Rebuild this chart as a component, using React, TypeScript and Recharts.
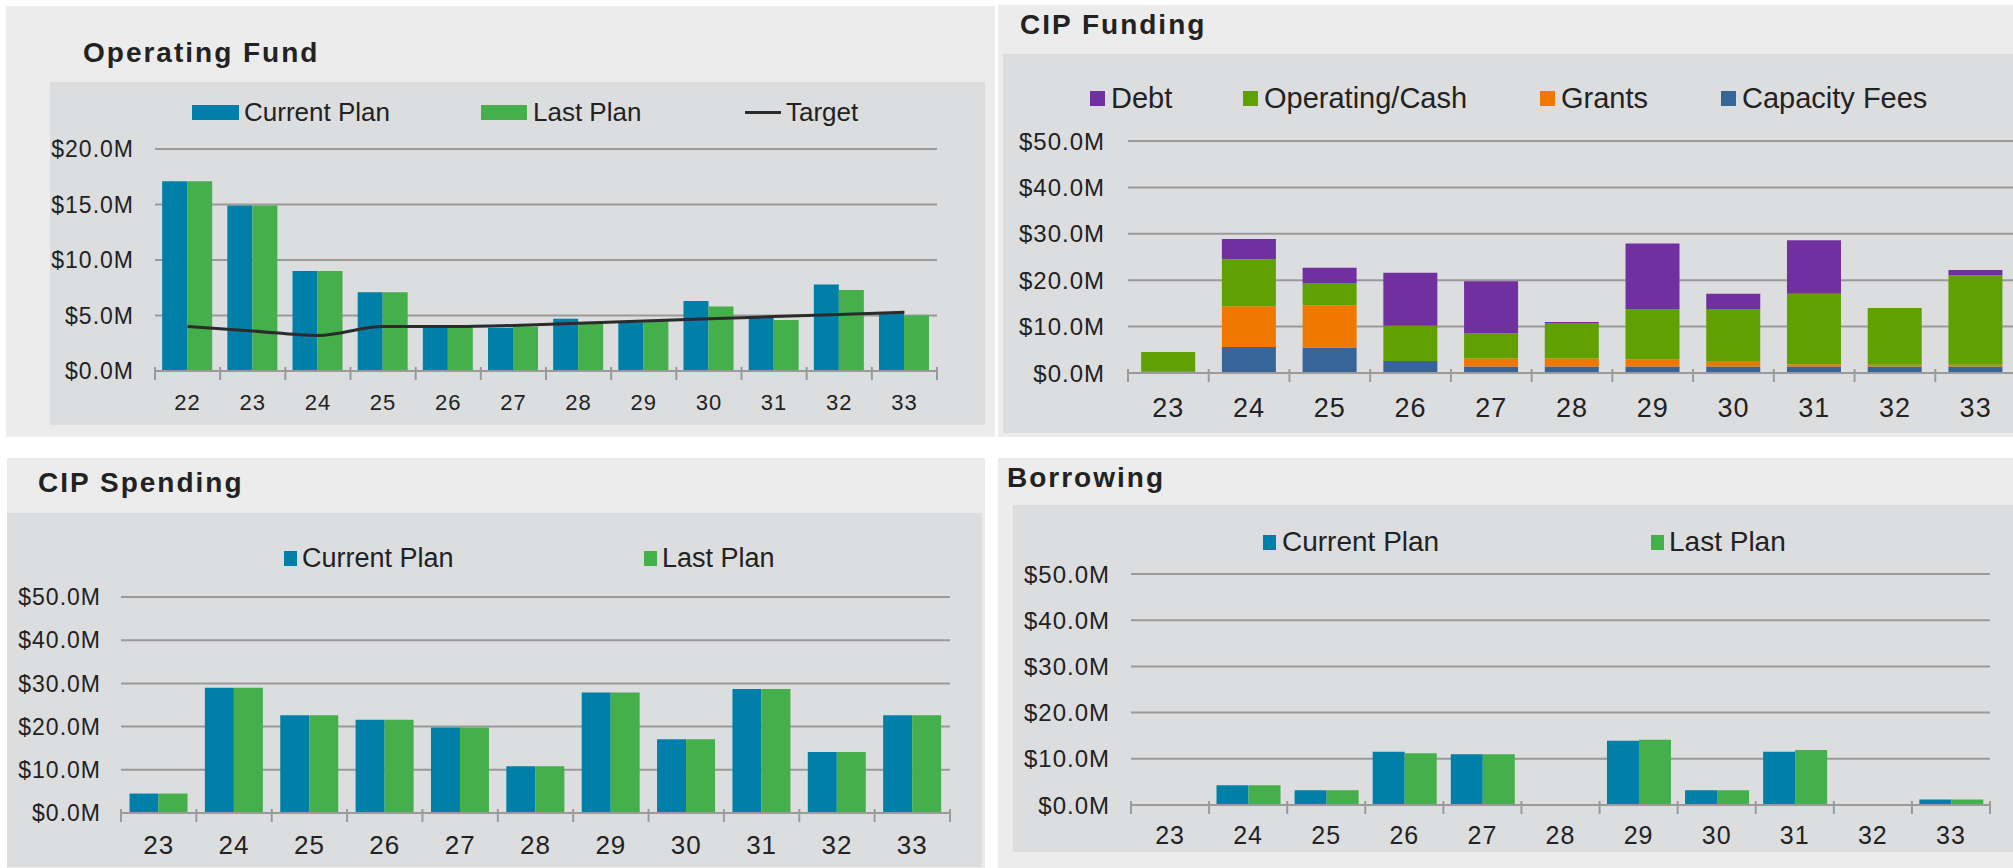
import React from 'react';
import { BarChart, Bar, ComposedChart, Line, XAxis, YAxis, CartesianGrid } from 'recharts';

const FONT = '"Liberation Sans", Arial, Helvetica, sans-serif';
const TEXT = '#222222';
const GRID = '#9a9a9a';
const OUTER_BG = '#ececec';
const INNER_BG = '#dcdddf';

const CURRENT = '#0080a8';
const LAST = '#44af4b';
const TARGET = '#2b2b2b';
const DEBT = '#7030a0';
const OPCASH = '#60a000';
const GRANTS = '#f07800';
const CAPFEES = '#37659a';

// Operating Fund ($M)
const opYears = ['22', '23', '24', '25', '26', '27', '28', '29', '30', '31', '32', '33'];
const opCurrent = [17.1, 14.9, 9.0, 7.1, 4.0, 3.9, 4.7, 4.4, 6.3, 4.8, 7.8, 5.2];
const opLast = [17.1, 14.9, 9.0, 7.1, 4.0, 4.0, 4.4, 4.5, 5.8, 4.6, 7.3, 5.0];
const opTarget = [4.0, 3.6, 3.2, 4.0, 4.0, 4.1, 4.3, 4.5, 4.7, 4.9, 5.1, 5.3];
const opTicks = [0, 5, 10, 15, 20];

// CIP Funding ($M, stacked bottom to top)
const cipYears = ['23', '24', '25', '26', '27', '28', '29', '30', '31', '32', '33'];
const cipCapacityFees = [0.3, 5.6, 5.5, 2.6, 1.4, 1.4, 1.4, 1.4, 1.4, 1.4, 1.4];
const cipGrants = [0, 8.8, 9.1, 0, 1.7, 1.7, 1.5, 1.0, 0.5, 0.4, 0.4];
const cipOperatingCash = [4.2, 10.1, 4.8, 7.6, 5.4, 7.7, 10.9, 11.4, 15.2, 12.2, 19.2];
const cipDebt = [0, 4.4, 3.3, 11.4, 11.3, 0.2, 14.1, 3.3, 11.5, 0, 1.2];
const cipTicks = [0, 10, 20, 30, 40, 50];

// CIP Spending ($M)
const spendCurrent = [4.5, 29.0, 22.6, 21.6, 19.8, 10.8, 27.9, 17.1, 28.7, 14.1, 22.6];
const spendLast = [4.5, 29.0, 22.6, 21.6, 19.8, 10.8, 27.9, 17.1, 28.7, 14.1, 22.6];

// Borrowing ($M)
const borrowCurrent = [0, 4.3, 3.2, 11.5, 11.0, 0, 13.9, 3.2, 11.5, 0, 1.2];
const borrowLast = [0, 4.3, 3.2, 11.2, 11.0, 0, 14.1, 3.2, 11.9, 0, 1.2];

const opData = opYears.map((year, i) => ({ year, current: opCurrent[i], last: opLast[i], target: opTarget[i] }));
const fundingData = cipYears.map((year, i) => ({
  year,
  capacity: cipCapacityFees[i],
  grants: cipGrants[i],
  operating: cipOperatingCash[i],
  debt: cipDebt[i],
}));
const spendData = cipYears.map((year, i) => ({ year, current: spendCurrent[i], last: spendLast[i] }));
const borrowData = cipYears.map((year, i) => ({ year, current: borrowCurrent[i], last: borrowLast[i] }));

const fmtM = (v: number) => `$${v.toFixed(1)}M`;

// x tick: label in the middle of the band, small tick marks at band edges
const CategoryTick = (props: any) => {
  const { x, y, payload, index, count, fontSize, dy } = props;
  const half = payload && payload.offset ? payload.offset : 0;
  return (
    <g>
      <line x1={x - half} x2={x - half} y1={y - 4} y2={y + 9} stroke={GRID} strokeWidth={2} />
      {index === count - 1 && (
        <line x1={x + half} x2={x + half} y1={y - 4} y2={y + 9} stroke={GRID} strokeWidth={2} />
      )}
      <text x={x} y={y + dy} textAnchor="middle" fontSize={fontSize} fill={TEXT} fontFamily={FONT} letterSpacing={1}>
        {payload.value}
      </text>
    </g>
  );
};

const Title = ({ text, left, top }: { text: string; left: number; top: number }) => (
  <div
    style={{
      position: 'absolute',
      left,
      top: top - 18,
      height: 36,
      lineHeight: '36px',
      fontFamily: FONT,
      fontWeight: 700,
      fontSize: 28,
      letterSpacing: 2,
      color: TEXT,
      whiteSpace: 'nowrap',
    }}
  >
    {text}
  </div>
);

type LegendItem = { name: string; color: string; kind: 'bar' | 'line'; swatchX: number; textX: number; swatchW: number };

const LegendRow = ({ items, y, fontSize }: { items: LegendItem[]; y: number; fontSize: number }) => (
  <>
    {items.map((it) => (
      <React.Fragment key={it.name}>
        {it.kind === 'bar' ? (
          <div style={{ position: 'absolute', left: it.swatchX, top: y - 7, width: it.swatchW, height: 15, background: it.color }} />
        ) : (
          <div style={{ position: 'absolute', left: it.swatchX, top: y - 1, width: it.swatchW, height: 3, background: it.color }} />
        )}
        <div
          style={{
            position: 'absolute',
            left: it.textX,
            top: y - 20,
            height: 40,
            lineHeight: '40px',
            fontFamily: FONT,
            fontSize,
            color: TEXT,
            whiteSpace: 'nowrap',
          }}
        >
          {it.name}
        </div>
      </React.Fragment>
    ))}
  </>
);

const Box = ({ left, top, width, height, bg }: { left: number; top: number; width: number; height: number; bg: string }) => (
  <div style={{ position: 'absolute', left, top, width, height, background: bg }} />
);

const yTick = (fontSize: number) => ({ fill: TEXT, fontSize, fontFamily: FONT, letterSpacing: 1 });

const OperatingFund = () => (
  <div style={{ position: 'absolute', left: 50, top: 82 }}>
    <ComposedChart
      width={935}
      height={343}
      data={opData}
      margin={{ top: 67, right: 48, bottom: 0, left: 0 }}
      barCategoryGap="11%"
      barGap={0}
    >
      <CartesianGrid horizontal vertical={false} stroke={GRID} strokeWidth={2} />
      <XAxis
        dataKey="year"
        height={54}
        axisLine={{ stroke: GRID, strokeWidth: 2 }}
        tickLine={false}
        tickSize={0}
        tickMargin={0}
        interval={0}
        tick={(p: any) => <CategoryTick {...p} count={opYears.length} fontSize={22} dy={39} />}
      />
      <YAxis
        width={105}
        domain={[0, 20]}
        ticks={opTicks}
        axisLine={false}
        tickLine={false}
        tickSize={0}
        tickMargin={21}
        tickFormatter={fmtM}
        tick={yTick(23)}
      />
      <Bar dataKey="current" name="Current Plan" fill={CURRENT} isAnimationActive={false} />
      <Bar dataKey="last" name="Last Plan" fill={LAST} isAnimationActive={false} />
      <Line type="monotone" dataKey="target" name="Target" stroke={TARGET} strokeWidth={3} dot={false} isAnimationActive={false} />
    </ComposedChart>
  </div>
);

const CipFunding = () => (
  <div style={{ position: 'absolute', left: 1003, top: 54 }}>
    <BarChart
      width={1013}
      height={379}
      data={fundingData}
      margin={{ top: 87, right: 0, bottom: 0, left: 0 }}
      barCategoryGap="16.3%"
    >
      <CartesianGrid horizontal vertical={false} stroke={GRID} strokeWidth={2} />
      <XAxis
        dataKey="year"
        height={60}
        axisLine={{ stroke: GRID, strokeWidth: 2 }}
        tickLine={false}
        tickSize={0}
        tickMargin={0}
        interval={0}
        tick={(p: any) => <CategoryTick {...p} count={cipYears.length} fontSize={27} dy={44} />}
      />
      <YAxis
        width={125}
        domain={[0, 50]}
        ticks={cipTicks}
        axisLine={false}
        tickLine={false}
        tickSize={0}
        tickMargin={23}
        tickFormatter={fmtM}
        tick={yTick(24)}
      />
      <Bar dataKey="capacity" name="Capacity Fees" stackId="f" fill={CAPFEES} isAnimationActive={false} />
      <Bar dataKey="grants" name="Grants" stackId="f" fill={GRANTS} isAnimationActive={false} />
      <Bar dataKey="operating" name="Operating/Cash" stackId="f" fill={OPCASH} isAnimationActive={false} />
      <Bar dataKey="debt" name="Debt" stackId="f" fill={DEBT} isAnimationActive={false} />
    </BarChart>
  </div>
);

const PlanBars = ({ data, left, top, width, height, margin, gap, axisH, yW, yMargin, xFont, xDy, yFont }: any) => (
  <div style={{ position: 'absolute', left, top }}>
    <BarChart width={width} height={height} data={data} margin={margin} barCategoryGap={gap} barGap={0}>
      <CartesianGrid horizontal vertical={false} stroke={GRID} strokeWidth={2} />
      <XAxis
        dataKey="year"
        height={axisH}
        axisLine={{ stroke: GRID, strokeWidth: 2 }}
        tickLine={false}
        tickSize={0}
        tickMargin={0}
        interval={0}
        tick={(p: any) => <CategoryTick {...p} count={data.length} fontSize={xFont} dy={xDy} />}
      />
      <YAxis
        width={yW}
        domain={[0, 50]}
        ticks={cipTicks}
        axisLine={false}
        tickLine={false}
        tickSize={0}
        tickMargin={yMargin}
        tickFormatter={fmtM}
        tick={yTick(yFont)}
      />
      <Bar dataKey="current" name="Current Plan" fill={CURRENT} isAnimationActive={false} />
      <Bar dataKey="last" name="Last Plan" fill={LAST} isAnimationActive={false} />
    </BarChart>
  </div>
);

export default function App() {
  return (
    <div
      style={{
        position: 'fixed',
        left: 0,
        top: 0,
        width: 2013,
        height: 868,
        overflow: 'hidden',
        background: '#ffffff',
      }}
    >
      {/* Operating Fund */}
      <Box left={6} top={6} width={989} height={431} bg={OUTER_BG} />
      <Box left={50} top={82} width={935} height={343} bg={INNER_BG} />
      <Title text="Operating Fund" left={83} top={53} />
      <LegendRow
        y={112}
        fontSize={26}
        items={[
          { name: 'Current Plan', color: CURRENT, kind: 'bar', swatchX: 192, swatchW: 47, textX: 244 },
          { name: 'Last Plan', color: LAST, kind: 'bar', swatchX: 481, swatchW: 46, textX: 533 },
          { name: 'Target', color: TARGET, kind: 'line', swatchX: 745, swatchW: 36, textX: 786 },
        ]}
      />
      <OperatingFund />

      {/* CIP Funding */}
      <Box left={998} top={5} width={1015} height={432} bg={OUTER_BG} />
      <Box left={1003} top={54} width={1010} height={379} bg={INNER_BG} />
      <Title text="CIP Funding" left={1020} top={25} />
      <LegendRow
        y={98}
        fontSize={29}
        items={[
          { name: 'Debt', color: DEBT, kind: 'bar', swatchX: 1090, swatchW: 15, textX: 1111 },
          { name: 'Operating/Cash', color: OPCASH, kind: 'bar', swatchX: 1243, swatchW: 15, textX: 1264 },
          { name: 'Grants', color: GRANTS, kind: 'bar', swatchX: 1540, swatchW: 15, textX: 1561 },
          { name: 'Capacity Fees', color: CAPFEES, kind: 'bar', swatchX: 1721, swatchW: 15, textX: 1742 },
        ]}
      />
      <CipFunding />

      {/* CIP Spending */}
      <Box left={7} top={458} width={978} height={410} bg={OUTER_BG} />
      <Box left={7} top={513} width={975} height={354} bg={INNER_BG} />
      <Title text="CIP Spending" left={38} top={483} />
      <LegendRow
        y={558}
        fontSize={27}
        items={[
          { name: 'Current Plan', color: CURRENT, kind: 'bar', swatchX: 284, swatchW: 13, textX: 302 },
          { name: 'Last Plan', color: LAST, kind: 'bar', swatchX: 644, swatchW: 13, textX: 662 },
        ]}
      />
      <PlanBars
        data={spendData}
        left={7}
        top={513}
        width={975}
        height={354}
        margin={{ top: 84, right: 32, bottom: 0, left: 0 }}
        gap="11.3%"
        axisH={54}
        yW={114}
        yMargin={20}
        xFont={26}
        xDy={41}
        yFont={23}
      />

      {/* Borrowing */}
      <Box left={998} top={458} width={1015} height={410} bg={OUTER_BG} />
      <Box left={1013} top={505} width={1000} height={347} bg={INNER_BG} />
      <Title text="Borrowing" left={1007} top={478} />
      <LegendRow
        y={542}
        fontSize={28}
        items={[
          { name: 'Current Plan', color: CURRENT, kind: 'bar', swatchX: 1263, swatchW: 13, textX: 1282 },
          { name: 'Last Plan', color: LAST, kind: 'bar', swatchX: 1651, swatchW: 13, textX: 1669 },
        ]}
      />
      <PlanBars
        data={borrowData}
        left={1013}
        top={505}
        width={1000}
        height={347}
        margin={{ top: 69, right: 23, bottom: 0, left: 0 }}
        gap="9.5%"
        axisH={47}
        yW={118}
        yMargin={21}
        xFont={25}
        xDy={39}
        yFont={24}
      />
    </div>
  );
}
